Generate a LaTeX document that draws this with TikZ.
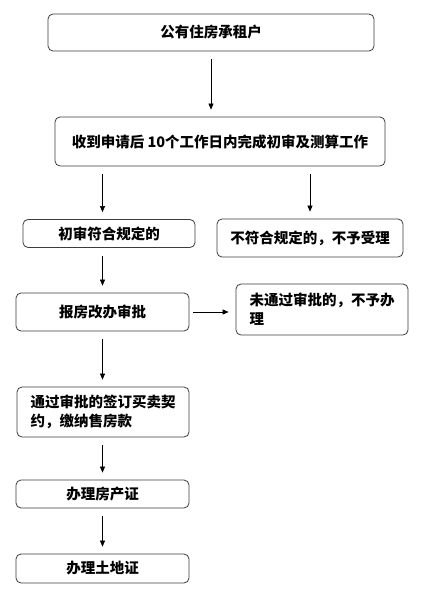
\documentclass[tikz,border=0pt]{standalone}
\usepackage{fontspec}
\usepackage{tikz}
\usetikzlibrary{arrows.meta, positioning}
\newfontfamily\cjk{Noto Sans CJK SC}
\definecolor{myframe}{RGB}{60,60,60}

\begin{document}
\begin{tikzpicture}[x=1pt, y=-1pt,
    stepbox/.style={draw=myframe, line width=0.8pt, rounded corners=5pt, inner sep=0pt,
        font=\cjk\bfseries\fontsize{14.5}{19}\selectfont},
    flow/.style={-{Triangle[length=6pt,width=5pt]}, line width=0.6pt, shorten <=8pt, shorten >=7pt}]
    \useasboundingbox (0,0) rectangle (423,604);

    % Main column of the procedure
    \node[stepbox, minimum width=326pt, minimum height=37pt] (tenant) at (211,32.5) {公有住房承租户};
    \node[stepbox, minimum width=330pt, minimum height=49pt] (review) at (220,141.5) {收到申请后 10个工作日内完成初审及测算工作};
    \node[stepbox, minimum width=172pt, minimum height=28pt] (pass) at (109,233.5) {初审符合规定的};
    \node[stepbox, minimum width=186pt, minimum height=38pt] (reject) at (310,238) {不符合规定的，不予受理};
    \node[stepbox, minimum width=173pt, minimum height=38pt] (office) at (102.5,312) {报房改办审批};
    \node[stepbox, minimum width=172pt, minimum height=51pt, align=left] (refuse) at (322,309.5) {未通过审批的，不予办\\理};
    \node[stepbox, minimum width=172pt, minimum height=50pt, align=left] (contract) at (103,412) {通过审批的签订买卖契\\约，缴纳售房款};
    \node[stepbox, minimum width=173pt, minimum height=28pt] (house) at (102.5,494) {办理房产证};
    \node[stepbox, minimum width=173pt, minimum height=29pt] (land) at (102.5,568.5) {办理土地证};

    % Arrows between the steps
    \draw[flow] (tenant.south) -- (review.north -| tenant.south);
    \draw[flow] (review.south -| office.center) -- (pass.north -| office.center);
    \draw[flow] (review.south -| reject.north) -- (reject.north);
    \draw[flow] (pass.south -| office.center) -- (office.north);
    \draw[flow, shorten <=4pt] (office.east) -- (office.east -| refuse.west);
    \draw[flow] (office.south) -- (contract.north -| office.center);
    \draw[flow] (contract.south -| office.center) -- (house.north);
    \draw[flow] (house.south) -- (land.north);
\end{tikzpicture}
\end{document}
